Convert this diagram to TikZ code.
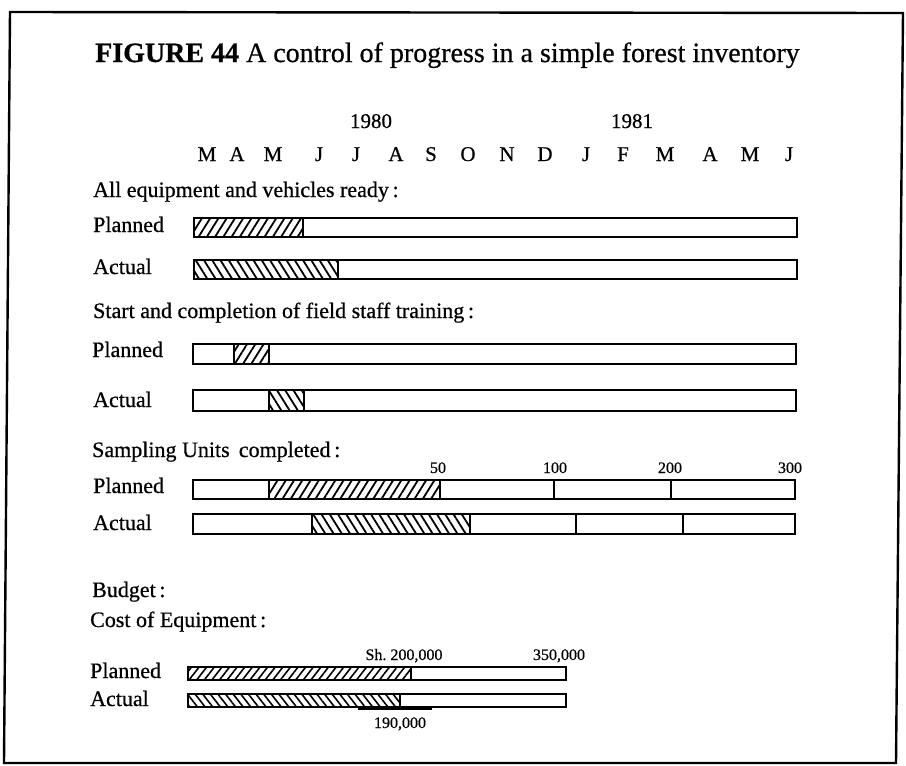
\documentclass[tikz,border=0pt]{standalone}
\usepackage{fontspec}
\setmainfont{Liberation Serif}
\newfontfamily\inkfont{Liberation Serif}[FakeBold=0.6]
\usetikzlibrary{patterns.meta}
\begin{document}
\begin{tikzpicture}[x=1pt,y=-1pt,
  lbl/.style={anchor=base west,inner sep=0pt,font=\inkfont\fontsize{22}{24}\selectfont},
  mon/.style={anchor=base,inner sep=0pt,font=\inkfont\fontsize{21}{24}\selectfont},
  num/.style={anchor=base,inner sep=0pt,font=\inkfont\fontsize{16}{18}\selectfont},
  barbox/.style={draw=black,line width=1.9pt,line join=miter},
  sep/.style={draw=black,line width=1.6pt},
  hatchp/.style={pattern={Lines[angle=58,distance=7pt,line width=1.8pt]}},
  hatcha/.style={pattern={Lines[angle=122,distance=7pt,line width=1.8pt]}},
  hatchpb/.style={pattern={Lines[angle=52,distance=6pt,line width=1.6pt]}},
  hatchab/.style={pattern={Lines[angle=128,distance=6pt,line width=1.6pt]}}]
\useasboundingbox (0,0) rectangle (906,766);
\fill[white] (0,0) rectangle (906,766);
% frame
\draw[line width=2.4pt,line join=miter] (10,12) -- (903,13) -- (896,763) -- (4,763) -- cycle;
% title
\node[anchor=base west,inner sep=0pt,font=\inkfont\fontsize{28}{32}\selectfont] (title) at (95,62)
  {\textbf{FIGURE 44} A control of progress in a simple forest inventory};
% years
\node[mon] (y80) at (371,128) {1980};
\node[mon] (y81) at (632,128) {1981};
% months
\foreach \m/\x [count=\i] in {M/207,A/237,M/273,J/319,J/356,A/396,S/431,O/468,N/507,D/545,J/586,F/623,M/665,A/710,M/750,J/789}
  \node[mon] (m\i) at (\x,161) {\m};
% section 1
\node[lbl] (s1) at (93,197) {All equipment and vehicles ready\,:};
\node[lbl] (p1) at (93,232) {Planned};
\fill[hatchp] (194,218) rectangle (303,237);
\draw[barbox] (194,218) rectangle (797,237);
\draw[sep] (303,218) -- (303,237);
\node[lbl] (a1) at (93,274) {Actual};
\fill[hatcha] (194,260) rectangle (338,279);
\draw[barbox] (194,260) rectangle (797,279);
\draw[sep] (338,260) -- (338,279);
% section 2
\node[lbl] (s2) at (93,318) {Start and completion of field staff training\,:};
\node[lbl] (p2) at (92,357) {Planned};
\fill[hatchp] (234,344) rectangle (269,364);
\draw[barbox] (193,344) rectangle (796,364);
\draw[sep] (234,344) -- (234,364);
\draw[sep] (269,344) -- (269,364);
\node[lbl] (a2) at (93,407) {Actual};
\fill[hatcha] (269,390) rectangle (304,411);
\draw[barbox] (193,390) rectangle (796,411);
\draw[sep] (269,390) -- (269,411);
\draw[sep] (304,390) -- (304,411);
% section 3
\node[lbl] (s3) at (92,457) {Sampling Units\, completed\,:};
\node[num] (n50) at (438,473) {50};
\node[num] (n100) at (555,473) {100};
\node[num] (n200) at (670,473) {200};
\node[num] (n300) at (790,473) {300};
\node[lbl] (p3) at (93,493) {Planned};
\fill[hatchp] (269,480) rectangle (440,499);
\draw[barbox] (193,480) rectangle (795,499);
\foreach \x in {269,440,554,671} \draw[sep] (\x,480) -- (\x,499);
\node[lbl] (a3) at (93,530) {Actual};
\fill[hatcha] (312,514) rectangle (470,534);
\draw[barbox] (193,514) rectangle (795,534);
\foreach \x in {312,470,576,683} \draw[sep] (\x,514) -- (\x,534);
% budget
\node[lbl] (s4) at (92,597) {Budget\,:};
\node[lbl] (s5) at (90,627) {Cost of Equipment\,:};
\node[num] (sh) at (404,660) {Sh.\ 200,000};
\node[num] (n350) at (559,660) {350,000};
\node[lbl] (p4) at (90,678) {Planned};
\fill[hatchpb] (188,667) rectangle (411,680);
\draw[barbox] (188,667) rectangle (566,680);
\draw[sep] (411,667) -- (411,680);
\node[lbl] (a4) at (90,706) {Actual};
\fill[hatchab] (188,694) rectangle (400,707);
\draw[barbox] (188,694) rectangle (566,707);
\draw[sep] (400,694) -- (400,707);
\coordinate (l1) at (358,709);
\coordinate (l2) at (432,709);
\draw[line width=1.2pt] (l1) -- (l2);
\node[num] (n190) at (400,728) {190,000};
\end{tikzpicture}
\end{document}
